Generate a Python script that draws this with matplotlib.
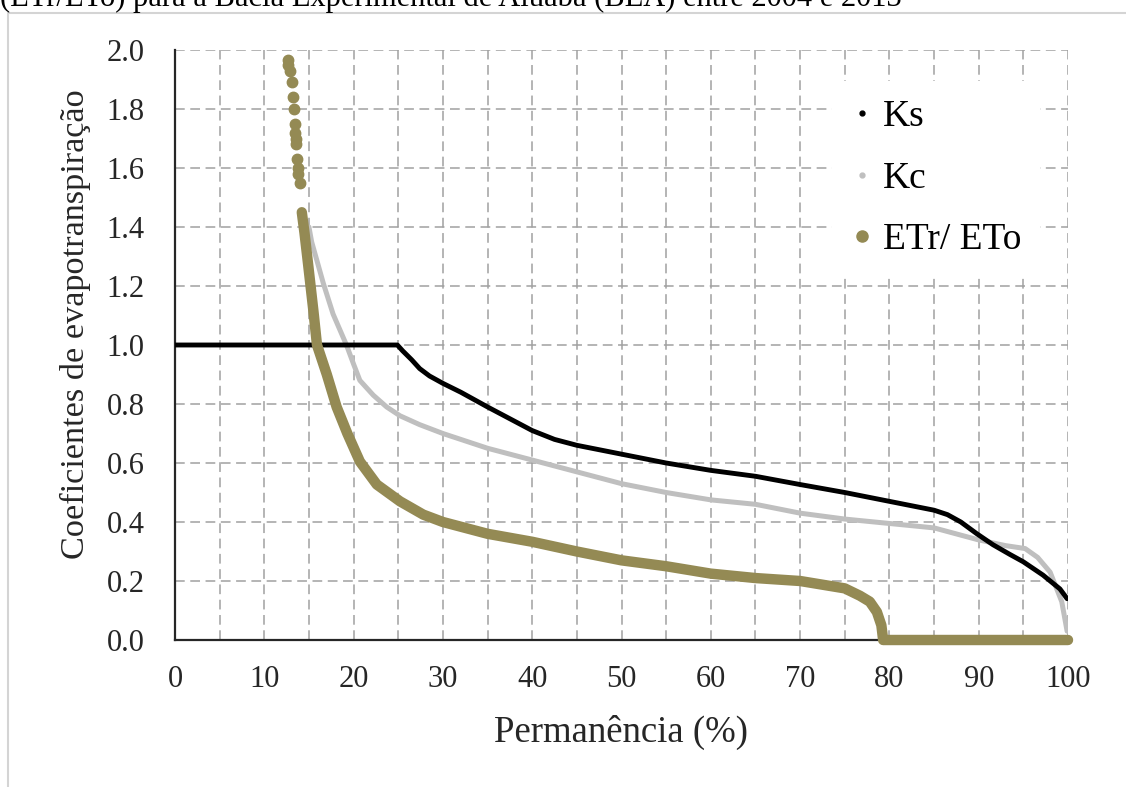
import matplotlib
matplotlib.use("Agg")
import matplotlib.pyplot as plt
from matplotlib.lines import Line2D
from matplotlib.patches import Rectangle

# duration curves of the evapotranspiration coefficients
ks_x = [0, 24.9, 25.5, 26.5, 27.4, 28.5, 30, 32, 35, 37.5, 40, 42.5, 45, 47.5, 50, 55,
        60, 65, 70, 75, 80, 82.5, 85, 86.5, 88, 89.8, 91.6, 93.5, 95, 97.2, 99.1, 99.9]
ks_y = [1.0, 1.0, 0.98, 0.95, 0.92, 0.895, 0.87, 0.84, 0.79, 0.75, 0.71, 0.68, 0.66,
        0.645, 0.63, 0.60, 0.575, 0.555, 0.527, 0.50, 0.47, 0.455, 0.44, 0.425, 0.40,
        0.36, 0.323, 0.29, 0.265, 0.22, 0.173, 0.14]

kc_x = [15.0, 15.3, 16.6, 17.7, 19.2, 20.0, 20.7, 22.2, 23.7, 25.2, 27.4, 30, 32, 35,
        40, 45, 50, 55, 60, 65, 70, 75, 80, 85, 89.9, 93, 95.2, 96.6, 98.0, 99.3, 99.9]
kc_y = [1.40, 1.35, 1.21, 1.105, 1.0, 0.935, 0.88, 0.83, 0.79, 0.76, 0.73, 0.70, 0.68,
        0.65, 0.61, 0.57, 0.53, 0.50, 0.475, 0.46, 0.43, 0.41, 0.395, 0.38, 0.34, 0.32,
        0.31, 0.28, 0.23, 0.13, 0.03]

# ETr/ETo: isolated high values, then the continuous part
etr_top_x = [12.65, 12.7, 12.9, 13.1, 13.2, 13.3, 13.4, 13.4, 13.5, 13.6, 13.7, 13.8,
             13.8, 14.0]
etr_top_y = [1.966, 1.95, 1.93, 1.89, 1.84, 1.80, 1.75, 1.72, 1.70, 1.68, 1.63, 1.60,
             1.58, 1.55]

etr_x = [14.2, 14.5, 14.9, 15.5, 15.9, 17.0, 18.1, 19.3, 20.7, 22.6, 25.2, 27.8, 30,
         35, 40, 45, 50, 55, 60, 65, 70, 75, 76.7, 77.8, 78.6, 79.1, 79.3, 100]
etr_y = [1.45, 1.38, 1.275, 1.115, 1.0, 0.90, 0.79, 0.70, 0.605, 0.527, 0.47, 0.425,
         0.40, 0.36, 0.333, 0.30, 0.27, 0.25, 0.225, 0.21, 0.20, 0.175, 0.15, 0.13,
         0.095, 0.05, 0.0, 0.0]

x_ticks = [0, 10, 20, 30, 40, 50, 60, 70, 80, 90, 100]
y_ticks = [0.0, 0.2, 0.4, 0.6, 0.8, 1.0, 1.2, 1.4, 1.6, 1.8, 2.0]

c_ks = "black"
c_kc = "#bfbfbf"
c_etr = "#948a54"

plt.rcParams["font.family"] = ["Liberation Serif", "DejaVu Serif"]
plt.rcParams["lines.scale_dashes"] = False

fig = plt.figure(figsize=(11.26, 7.87), dpi=100)
ax = fig.add_axes([175 / 1126, 1 - 640 / 787, 893 / 1126, 590 / 787])

# page caption above the chart (cut by the top edge) and the light frame
fig.text(0.0, 1 - 6 / 787, "(ETr/ETo) para a Bacia Experimental de Aiuaba (BEA) entre 2004 e 2013",
         fontsize=22, ha="left", va="baseline", color="black")
fig.patches.append(Rectangle((8 / 1126, -0.05), 1.2, 1 - 13 / 787 + 0.05,
                             transform=fig.transFigure, fill=False,
                             edgecolor="#d4d4d4", linewidth=1.5))

ax.plot(ks_x, ks_y, color=c_ks, linewidth=3.5, solid_capstyle="round",
        solid_joinstyle="round", zorder=4)
ax.plot(kc_x, kc_y, color=c_kc, linewidth=3.6, solid_capstyle="round",
        solid_joinstyle="round", zorder=3)
ax.plot(etr_x, etr_y, color=c_etr, linewidth=7.5, solid_capstyle="round",
        solid_joinstyle="round", zorder=5, clip_on=False)
ax.plot(etr_top_x, etr_top_y, "o", color=c_etr, markersize=7.5, zorder=5,
        clip_on=False)

ax.set_xlim(0, 100)
ax.set_ylim(0, 2.0)
ax.set_xticks(x_ticks)
ax.set_xticks(range(5, 100, 10), minor=True)
ax.set_yticks(y_ticks)
ax.set_yticklabels([f"{v:.1f}" for v in y_ticks])

ax.grid(True, which="both", color="#a0a0a0", linestyle=(0, (7, 4)), linewidth=1.1)
ax.set_axisbelow(True)
ax.tick_params(which="both", length=0, labelsize=22, colors="#262626")
ax.tick_params(axis="x", pad=18)
ax.tick_params(axis="y", pad=22)

for side in ["top", "right"]:
    ax.spines[side].set_visible(False)
for side in ["left", "bottom"]:
    ax.spines[side].set_color("#262626")
    ax.spines[side].set_linewidth(1.6)

ax.set_xlabel("Permanência (%)", fontsize=26.5, color="#262626")
ax.set_ylabel("Coeficientes de evapotranspiração", fontsize=24.7, color="#262626")
ax.xaxis.set_label_coords(0.5, -0.127)
ax.yaxis.label.set_va("center")
ax.yaxis.set_label_coords(-0.112, 0.535)

handles = [
    Line2D([], [], linestyle="none", marker="o", markersize=3.5, color=c_ks),
    Line2D([], [], linestyle="none", marker="o", markersize=3.5, color=c_kc),
    Line2D([], [], linestyle="none", marker="o", markersize=8, color=c_etr),
]
leg = ax.legend(handles, ["Ks", "Kc", "ETr/ ETo"], loc="upper left",
                bbox_to_anchor=(832 / 1126, 1 - 81 / 787), bbox_transform=fig.transFigure,
                frameon=True, facecolor="white", edgecolor="none", framealpha=1.0,
                fancybox=False, fontsize=27, handlelength=0.6, handletextpad=0.25,
                labelspacing=0.72, borderpad=0.5, borderaxespad=0)
leg.set_zorder(6)

fig.savefig("out.png", dpi=100)
